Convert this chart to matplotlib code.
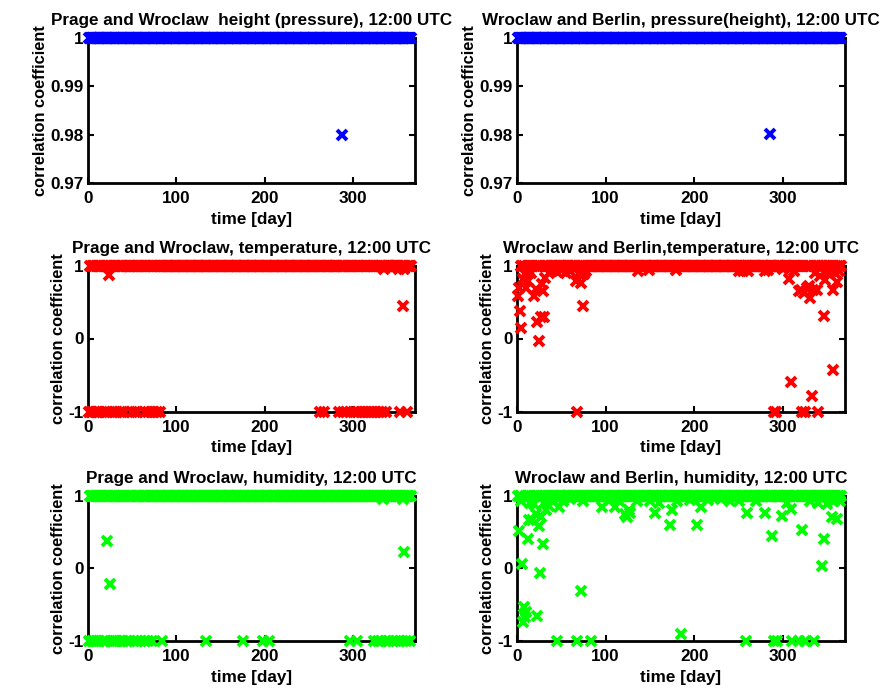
import numpy as np
import matplotlib
matplotlib.use("Agg")
import matplotlib.pyplot as plt

plt.rcParams['font.family'] = ['Liberation Sans', 'DejaVu Sans']
plt.rcParams['font.weight'] = 'bold'

# ---- data (days of the year, all other days = 1.0) ----
days = np.arange(1, 366)

# Prague-Wroclaw, pressure
pw_pres_days = [287]
pw_pres_vals = [0.98]

# Wroclaw-Berlin, pressure
wb_pres_days = [285]
wb_pres_vals = [0.9802]

# Prague-Wroclaw, temperature
pw_temp_days = [1, 3, 5, 8, 10, 13, 16, 19, 21, 24, 27, 30, 33, 36, 39, 41,
                50, 53, 56, 65, 68, 71, 75, 78, 82, 263, 267, 284, 288, 292, 296,
                302, 305, 309, 312, 316, 319, 322, 326, 329, 333, 335, 337,
                352, 353, 356, 358, 361]
pw_temp_vals = [-1, -1, -1, -1, -1, -1, -1, -1, -1, 0.87, -1, -1, -1, -1, -1, -1,
                -1, -1, -1, -1, -1, -1, -1, -1, -1, -1, -1, -1, -1, -1, -1,
                -1, -1, -1, -1, -1, -1, -1, -1, -1, -1, 0.95, -1,
                0.95, -1, 0.45, 0.95, -1]

# Wroclaw-Berlin, temperature
wb_temp_days = [1, 2, 3, 5, 7, 9, 10, 12, 14, 16, 19, 21, 23, 25, 27, 28, 29, 31, 32,
                36, 40, 45, 50, 55, 60, 66, 68, 70, 72, 74, 76, 78, 137, 149, 179,
                250, 255, 261, 280, 283, 290, 292, 300, 307, 309, 312, 318, 320, 322,
                324, 325, 327, 329, 331, 333, 334, 336, 338, 339, 342, 346, 348, 350,
                352, 354, 356, 357, 359, 361, 363]
wb_temp_vals = [0.58, 0.69, 0.38, 0.15, 0.81, 0.88, 0.69, 0.79, 0.92, 0.90, 0.58, 0.68,
                0.22, -0.03, 0.29, 0.74, 0.65, 0.30, 0.83,
                0.90, 0.93, 0.91, 0.94, 0.90, 0.93, 0.79, -1.0, 0.88, 0.76, 0.45, 0.88,
                0.92, 0.93, 0.94, 0.94,
                0.93, 0.92, 0.93, 0.92, 0.94, -1.0, -1.0, 0.95, 0.81, -0.60, 0.93, 0.65,
                0.67, -1.0, 0.62, -1.0, 0.69, 0.72, 0.56, -0.79, 0.66, 0.90, 0.66, -1.0,
                0.85, 0.31, 0.80, 0.92, 0.88, 0.95, -0.43, 0.67, 0.90, 0.78, 0.93]

# Prague-Wroclaw, humidity
pw_hum_days = [1, 4, 7, 10, 13, 17, 20, 22, 25, 27, 30, 33, 37, 40, 44, 48, 52, 56, 60,
               64, 68, 72, 84, 134, 175, 198, 205, 297, 304, 324, 328, 332, 334, 337,
               341, 345, 349, 353, 356, 358, 360, 364]
pw_hum_vals = [-1, -1, -1, -1, -1, -1, -1, 0.37, -0.21, -1, -1, -1, -1, -1, -1, -1, -1,
               -1, -1, -1, -1, -1, -1, -1, -1, -1, -1, -1, -1, -1, -1, -1, 0.95, -1,
               -1, -1, -1, -1, 0.95, 0.22, -1, -1]

# Wroclaw-Berlin, humidity
wb_hum_days = [2, 4, 6, 7, 8, 9, 10, 12, 13, 15, 17, 19, 21, 23, 25, 26, 27, 29, 31, 33,
               36, 40, 45, 47, 52, 60, 68, 72, 75, 83, 96, 105, 111, 115, 122, 124, 126,
               128, 135, 150, 156, 160, 173, 175, 180, 185, 195, 203, 207, 215, 230, 240,
               250, 258, 260, 270, 280, 288, 290, 293, 299, 305, 309, 310, 318, 322, 325,
               330, 335, 340, 344, 346, 350, 355, 358, 361, 364]
wb_hum_vals = [0.51, 0.92, 0.06, -0.74, -0.53, -0.67, -0.60, 0.40, 0.67, 0.90, 0.67, 0.88,
               0.75, -0.65, 0.58, -0.06, 0.70, 0.33, 0.90, 0.80,
               0.86, 0.92, -1.0, 0.84, 0.93, 0.95, -1.0, -0.31, 0.93, -1.0, 0.84, 0.94,
               0.84, 0.92, 0.74, 0.70, 0.80, 0.76, 0.92, 0.93, 0.76, 0.90, 0.60, 0.80,
               0.93, -0.90, 0.94, 0.60, 0.84, 0.94, 0.95, 0.93,
               0.92, -1.0, 0.76, 0.93, 0.76, 0.44, -1.0, -1.0, 0.72, 0.90, 0.82, -1.0,
               -1.0, 0.53, -1.0, 0.93, -1.0, 0.90, 0.03, 0.40, 0.88, 0.70, 0.92, 0.68, 0.93]

titles = ["Prage and Wroclaw  height (pressure), 12:00 UTC",
          "Wroclaw and Berlin, pressure(height), 12:00 UTC",
          "Prage and Wroclaw, temperature, 12:00 UTC",
          "Wroclaw and Berlin,temperature, 12:00 UTC",
          "Prage and Wroclaw, humidity, 12:00 UTC",
          "Wroclaw and Berlin, humidity, 12:00 UTC"]
x_ticks = [0, 100, 200, 300]
y_ticks_pres = [0.97, 0.98, 0.99, 1.0]
y_ticklabels_pres = ["0.97", "0.98", "0.99", "1"]
y_ticks_other = [-1, 0, 1]
y_ticklabels_other = ["-1", "0", "1"]


def build(od, ov):
    v = np.ones(len(days))
    v[np.array(od) - 1] = ov
    return v


series = [build(pw_pres_days, pw_pres_vals), build(wb_pres_days, wb_pres_vals),
          build(pw_temp_days, pw_temp_vals), build(wb_temp_days, wb_temp_vals),
          build(pw_hum_days, pw_hum_vals), build(wb_hum_days, wb_hum_vals)]
colors = ['#0000ff', '#0000ff', '#ff0000', '#ff0000', '#00ff00', '#00ff00']

W, H = 890, 691
fig = plt.figure(figsize=(W / 100, H / 100), dpi=100)

col_x = [(88, 327), (517, 328)]
row_y = [(38, 183), (265.5, 411.5), (495.5, 641)]

FS = 12.3
for i in range(6):
    r, c = divmod(i, 2)
    x0, w = col_x[c]
    yt, yb = row_y[r]
    ax = fig.add_axes([x0 / W, 1 - yb / H, w / W, (yb - yt) / H])
    ax.plot(days, series[i], linestyle='none', marker='x', color=colors[i],
            markersize=6.8, markeredgewidth=2.8, clip_on=False, zorder=3)
    ax.set_xlim(0, 370)
    if r == 0:
        ax.set_ylim(0.97, 1.0)
        ax.set_yticks(y_ticks_pres)
        ax.set_yticklabels(y_ticklabels_pres)
    else:
        ax.set_ylim(-1, 1)
        ax.set_yticks(y_ticks_other)
        ax.set_yticklabels(y_ticklabels_other)
    ax.set_xticks(x_ticks)
    ax.tick_params(axis='x', direction='in', length=4, width=1.5, top=True,
                   labelsize=FS, pad=6)
    ax.tick_params(axis='y', direction='in', length=4, width=1.5, right=True,
                   labelsize=FS, pad=3)
    for lab in ax.get_xticklabels() + ax.get_yticklabels():
        lab.set_fontweight('bold')
    for s in ax.spines.values():
        s.set_linewidth(2)
        s.set_zorder(2)
    ax.set_title(titles[i], fontsize=FS, fontweight='bold', pad=9)
    ax.set_xlabel('time [day]', fontsize=FS, fontweight='bold', labelpad=4)
    ax.set_ylabel('correlation coefficient', fontsize=FS * 0.96, fontweight='bold',
                  labelpad=2)

fig.savefig('out.png', dpi=100)
